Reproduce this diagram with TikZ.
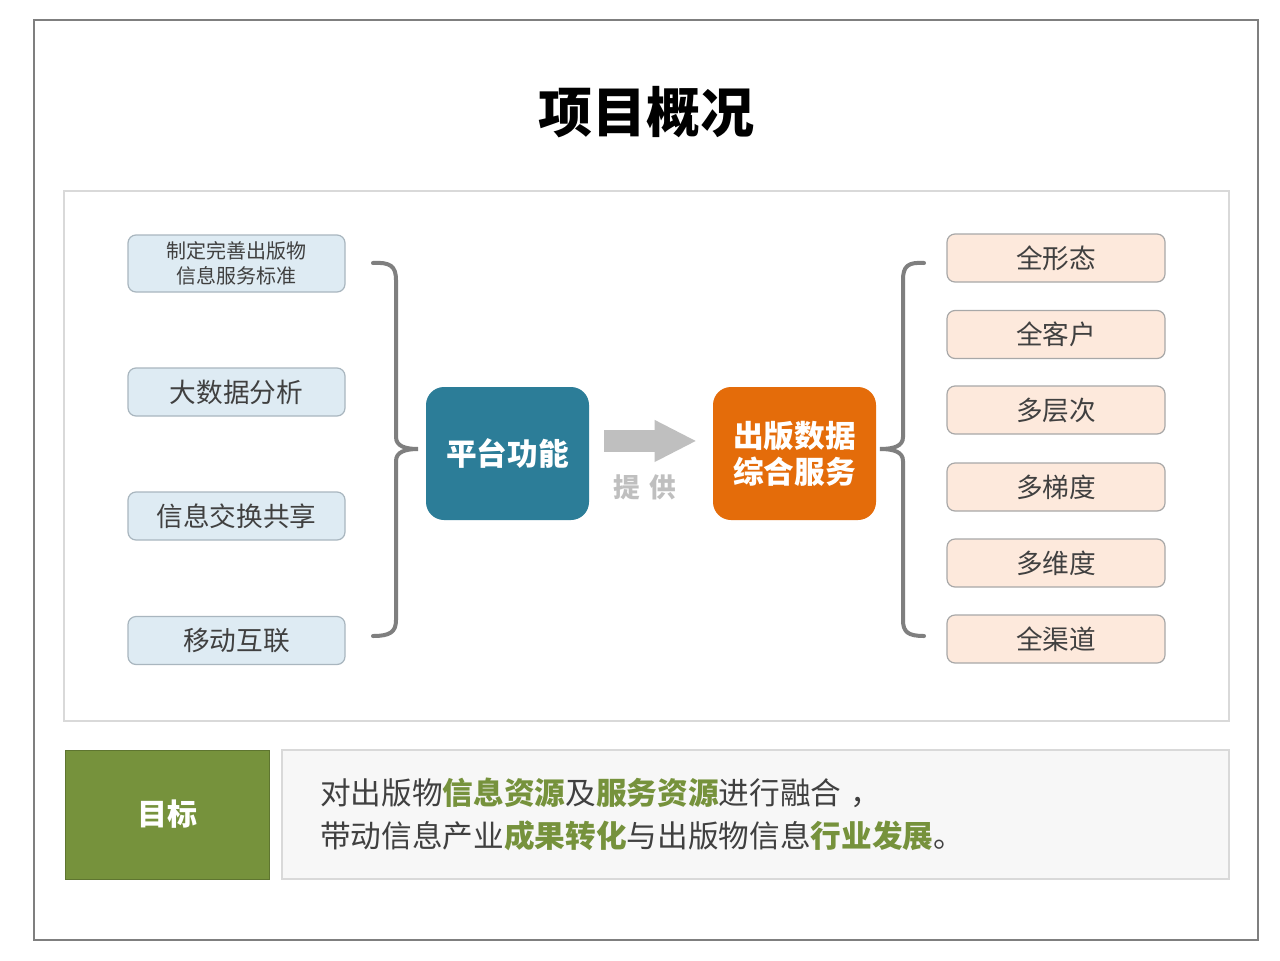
\documentclass[tikz,border=0pt]{standalone}
\usepackage{fontspec}
\setmainfont{Noto Sans CJK SC}
\usetikzlibrary{arrows.meta}
\definecolor{framegray}{HTML}{7F7F7F}
\definecolor{panelgray}{HTML}{D9D9D9}
\definecolor{lblue}{HTML}{DEEBF3}
\definecolor{lblueline}{HTML}{A9B6BF}
\definecolor{peach}{HTML}{FDE9DC}
\definecolor{peachline}{HTML}{A8A8A8}
\definecolor{tealblue}{HTML}{2C7D98}
\definecolor{orangeb}{HTML}{E46C0A}
\definecolor{oliveg}{HTML}{76923C}
\definecolor{txtgray}{HTML}{404040}
\definecolor{arrowgray}{HTML}{BFBFBF}
\definecolor{lightbg}{HTML}{F7F7F7}
\newcommand{\hlg}[1]{{\bfseries\color{oliveg}#1}}
\tikzset{
  leftbox/.style={draw=lblueline, fill=lblue, line width=0.9pt, rounded corners=6pt,
    minimum width=162.75pt, minimum height=36pt, inner sep=0pt, text=txtgray, align=center},
  rightbox/.style={draw=peachline, fill=peach, line width=0.9pt, rounded corners=6pt,
    minimum width=163.5pt, minimum height=36pt, inner sep=0pt, text=txtgray,
    font=\fontsize{20pt}{24pt}\selectfont},
  bigbox/.style={rounded corners=13.5pt, minimum width=122.25pt, minimum height=99.75pt,
    inner sep=0pt, text=white, align=center, font=\bfseries\fontsize{23pt}{28pt}\selectfont},
  brk/.style={draw=framegray, line width=3pt, line cap=round},
  goaltext/.style={anchor=west, inner sep=0pt, text=txtgray, font=\fontsize{23pt}{27pt}\selectfont},
}
\begin{document}
\begin{tikzpicture}[x=0.75pt, y=-0.75pt]
\useasboundingbox (0,0) rectangle (1280,960);
\fill[white] (0,0) rectangle (1280,960);
% outer frame and panel
\draw[framegray, line width=1.1pt] (34,20) rectangle (1258,940);
\draw[panelgray, line width=1pt] (64,191) rectangle (1229,721);
% title
\node[font=\bfseries\fontsize{40.5pt}{46pt}\selectfont, text=black] (title) at (646,112) {项目概况};
% left boxes
\node[leftbox, minimum height=42.75pt, font=\fontsize{15pt}{18.5pt}\selectfont] (l1) at (236.5,263.5) {制定完善出版物\\信息服务标准};
\node[leftbox, font=\fontsize{20pt}{24pt}\selectfont] (l2) at (236.5,392) {大数据分析};
\node[leftbox, font=\fontsize{20pt}{24pt}\selectfont] (l3) at (236.5,516) {信息交换共享};
\node[leftbox, font=\fontsize{20pt}{24pt}\selectfont] (l4) at (236.5,640.5) {移动互联};
% right boxes
\node[rightbox] (r1) at (1056,258) {全形态};
\node[rightbox] (r2) at (1056,334.5) {全客户};
\node[rightbox] (r3) at (1056,410) {多层次};
\node[rightbox] (r4) at (1056,487) {多梯度};
\node[rightbox] (r5) at (1056,563) {多维度};
\node[rightbox] (r6) at (1056,639) {全渠道};
% center boxes
\node[bigbox, fill=tealblue] (platform) at (507.5,453.5) {平台功能};
\node[bigbox, fill=orangeb] (service) at (794.5,453.5) {出版数据\\[-1pt]综合服务};
% arrow
\draw[arrowgray, line width=16.5pt, -{Triangle[length=31.5pt, width=29pt]}]
  ([xshift=11.25pt, yshift=9.4pt]platform.east) -- ([xshift=-12pt, yshift=9.4pt]service.west);
\node[text=arrowgray, font=\bfseries\fontsize{20pt}{24pt}\selectfont] (provide) at (645,487) {提\hspace{0.35em}供};
% brackets
\draw[brk] (373,263) .. controls (390,262) and (396,266) .. (396,280) -- (396,437)
  .. controls (396,446) and (405,449) .. (418,449)
  .. controls (405,449) and (396,452) .. (396,461) -- (396,620)
  .. controls (396,632) and (390,636) .. (373,636);
\draw[brk] (924,263) .. controls (908,262) and (903,266) .. (903,280) -- (903,437)
  .. controls (903,446) and (894,449) .. (880,449)
  .. controls (894,449) and (903,452) .. (903,461) -- (903,620)
  .. controls (903,632) and (908,636) .. (924,636);
% goal section
\node[fill=oliveg, draw=oliveg!80!black, line width=0.6pt, minimum width=153pt, minimum height=96.75pt, inner sep=0pt,
  text=white, font=\bfseries\fontsize{22.5pt}{27pt}\selectfont] (goal) at (167,814.5) {目标};
\node[fill=lightbg, draw=panelgray, line width=1pt, minimum width=710.25pt, minimum height=96.75pt, inner sep=0pt] (goalbox) at (755.5,814.5) {};
\node[goaltext] (line1) at (320,793)
  {对出版物\hlg{信息资源}及\hlg{服务资源}进行融合\hspace{0.3em}，};
\node[goaltext] (line2) at (320,836)
  {带动信息产业\hlg{成果转化}与出版物信息\hlg{行业发展}。};
\end{tikzpicture}
\end{document}
